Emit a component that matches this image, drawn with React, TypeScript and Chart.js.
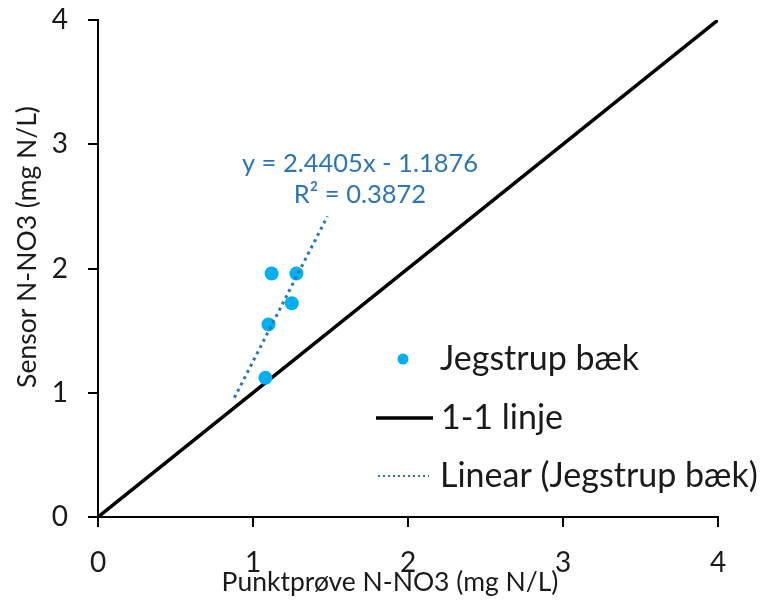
import React, { useEffect, useRef } from "react";
import { Chart, registerables } from "chart.js";

Chart.register(...registerables);

// ---- data ----
const seriesName = "Jegstrup bæk";
const pointX = [1.12, 1.28, 1.25, 1.10, 1.08];
const pointY = [1.96, 1.96, 1.72, 1.55, 1.12];

const refName = "1-1 linje";
const refX = [0, 4];
const refY = [0, 4];

const trendName = "Linear (Jegstrup bæk)";
const trendX = [0.88, 1.48];
const trendY = [0.96, 2.42];
const trendEquation = "y = 2.4405x - 1.1876";
const trendR2 = "R² = 0.3872";

const axisMin = 0;
const axisMax = 4;
const tickStep = 1;
const xTitle = "Punktprøve N-NO3 (mg N/L)";
const yTitle = "Sensor N-NO3 (mg N/L)";

const FONT = "Lato, 'Open Sans', sans-serif";
const TEXT = "#1a1a1a";
const POINT_COLOR = "#00B0F0";
const TREND_COLOR = "#2E75B6";

const toXY = (xs: number[], ys: number[]) => xs.map((x, i) => ({ x, y: ys[i] }));

const overlayPlugin = {
  id: "overlay",
  afterDraw(chart: any) {
    const ctx = chart.ctx as CanvasRenderingContext2D;
    ctx.save();
    // equation
    ctx.fillStyle = TREND_COLOR;
    ctx.font = `25.5px ${FONT}`;
    ctx.textAlign = "center";
    ctx.textBaseline = "alphabetic";
    ctx.fillText(trendEquation, 360, 172);
    ctx.fillText(trendR2, 360, 203);

    // axis titles
    ctx.fillStyle = TEXT;
    ctx.font = `26.5px ${FONT}`;
    ctx.fillText(xTitle, 390, 591);
    ctx.save();
    ctx.translate(36, 247);
    ctx.rotate(-Math.PI / 2);
    ctx.fillText(yTitle, 0, 0);
    ctx.restore();

    // legend
    const ds = chart.data.datasets;
    ctx.textAlign = "left";
    ctx.textBaseline = "middle";
    ctx.font = `34px ${FONT}`;
    // row 1: marker
    ctx.fillStyle = ds[0].backgroundColor;
    ctx.beginPath();
    ctx.arc(403, 359, 5.5, 0, Math.PI * 2);
    ctx.fill();
    ctx.fillStyle = TEXT;
    ctx.fillText(ds[0].label, 440, 359);
    // row 2: solid line
    ctx.strokeStyle = ds[1].borderColor;
    ctx.lineWidth = ds[1].borderWidth;
    ctx.setLineDash([]);
    ctx.beginPath();
    ctx.moveTo(376, 418);
    ctx.lineTo(433, 418);
    ctx.stroke();
    ctx.fillText(ds[1].label, 441, 418);
    // row 3: dotted line
    ctx.strokeStyle = ds[2].borderColor;
    ctx.lineWidth = 2;
    ctx.setLineDash([2, 3]);
    ctx.beginPath();
    ctx.moveTo(378, 476);
    ctx.lineTo(429, 476);
    ctx.stroke();
    ctx.setLineDash([]);
    ctx.fillText(ds[2].label, 440, 476);
    ctx.restore();
  },
};

export default function App() {
  const ref = useRef<HTMLCanvasElement | null>(null);
  useEffect(() => {
    if (!ref.current) return;
    const chart = new Chart(ref.current, {
      type: "scatter",
      data: {
        datasets: [
          {
            label: seriesName,
            data: toXY(pointX, pointY),
            backgroundColor: POINT_COLOR,
            borderColor: POINT_COLOR,
            borderWidth: 0,
            pointRadius: 7,
            showLine: false,
            order: 1,
          },
          {
            label: refName,
            data: toXY(refX, refY),
            borderColor: "#000000",
            backgroundColor: "#000000",
            borderWidth: 3.5,
            pointRadius: 0,
            showLine: true,
            order: 2,
          },
          {
            label: trendName,
            data: toXY(trendX, trendY),
            borderColor: TREND_COLOR,
            backgroundColor: TREND_COLOR,
            borderWidth: 3,
            borderDash: [3, 4],
            pointRadius: 0,
            showLine: true,
            order: 0,
          },
        ],
      },
      options: {
        animation: false,
        responsive: false,
        layout: { padding: { top: 20, right: 51, left: 0, bottom: 0 } },
        plugins: {
          legend: { display: false },
          tooltip: { enabled: false },
          title: { display: false },
        },
        scales: {
          x: {
            type: "linear",
            min: axisMin,
            max: axisMax,
            ticks: {
              stepSize: tickStep,
              color: TEXT,
              font: { family: FONT, size: 28 },
              padding: 19,
              maxRotation: 0,
            },
            grid: {
              drawOnChartArea: false,
              drawTicks: true,
              tickLength: 10,
              color: "#000000",
              lineWidth: 2,
            },
            border: { color: "#000000", width: 2 },
            afterFit: (s: any) => {
              s.height = 86;
              s.paddingLeft = 0;
              s.paddingRight = 0;
            },
          },
          y: {
            type: "linear",
            min: axisMin,
            max: axisMax,
            ticks: {
              stepSize: tickStep,
              color: TEXT,
              font: { family: FONT, size: 28 },
              padding: 20,
            },
            grid: {
              drawOnChartArea: false,
              drawTicks: true,
              tickLength: 10,
              color: "#000000",
              lineWidth: 2,
            },
            border: { color: "#000000", width: 2 },
            afterFit: (s: any) => {
              s.width = 98;
              s.paddingTop = 0;
              s.paddingBottom = 0;
            },
          },
        },
      },
      plugins: [overlayPlugin],
    });
    return () => chart.destroy();
  }, []);
  return (
    <div style={{ position: "absolute", left: 0, top: 0, width: 769, height: 603, background: "#fff" }}>
      <canvas ref={ref} width={769} height={603} style={{ display: "block" }} />
    </div>
  );
}
